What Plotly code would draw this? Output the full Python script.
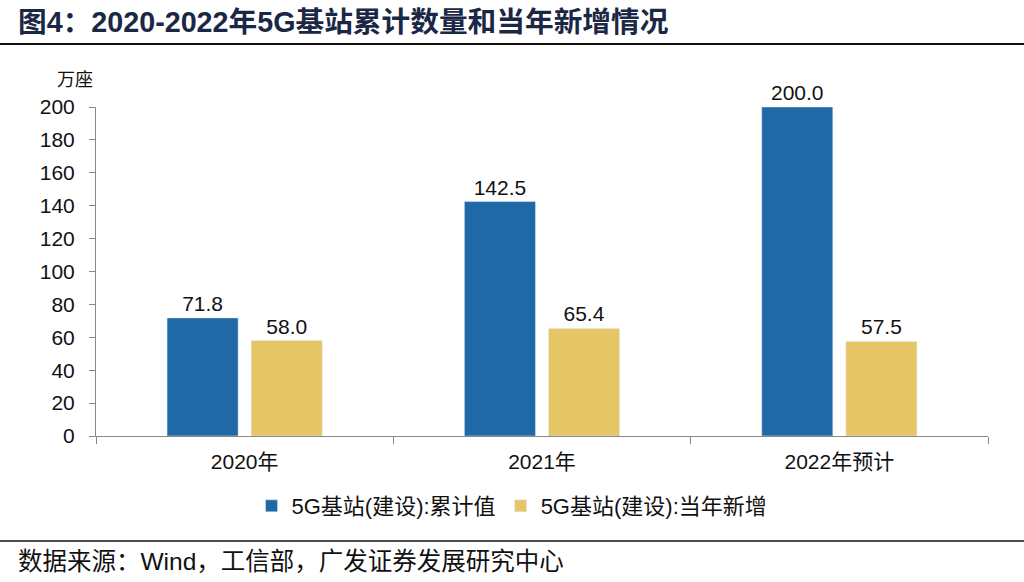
import plotly.graph_objects as go

categories = ["2020年", "2021年", "2022年预计"]
cumulative = [71.8, 142.5, 200.0]
new_added = [58.0, 65.4, 57.5]
series_names = ["5G基站(建设):累计值", "5G基站(建设):当年新增"]
y_ticks = [0, 20, 40, 60, 80, 100, 120, 140, 160, 180, 200]

FONT = "Liberation Sans, Noto Sans CJK SC, sans-serif"
BLUE = "#1E69A6"
YELLOW = "#E6C567"

L, R, T, B = 96, 36, 107, 146
PW, PH = 1024 - L - R, 582 - T - B


def px_x(x):
    return (x - L) / PW


def px_y(y):
    return (582 - B - y) / PH


fig = go.Figure()
fig.add_trace(go.Bar(
    x=categories, y=cumulative, name=series_names[0], marker_color=BLUE,
    text=[f"{v:.1f}" for v in cumulative], textposition="outside",
    textfont=dict(size=21, color="#111111", family=FONT), cliponaxis=False,
))
fig.add_trace(go.Bar(
    x=categories, y=new_added, name=series_names[1], marker_color=YELLOW,
    text=[f"{v:.1f}" for v in new_added], textposition="outside",
    textfont=dict(size=21, color="#111111", family=FONT), cliponaxis=False,
))

fig.update_layout(
    width=1024, height=582,
    paper_bgcolor="white", plot_bgcolor="white",
    margin=dict(l=L, r=R, t=T, b=B),
    barmode="group", bargap=0.434, bargroupgap=0.155,
    font=dict(family=FONT, size=20, color="#111111"),
    showlegend=True,
    legend=dict(orientation="h", x=px_x(512), xanchor="center", y=px_y(485), yanchor="top",
                font=dict(size=22, family=FONT), traceorder="normal",
                bgcolor="rgba(0,0,0,0)", itemwidth=30, tracegroupgap=0),
    xaxis=dict(
        type="category", showline=True, linecolor="#888888", linewidth=1,
        ticks="outside", tickson="boundaries", ticklen=7, tickcolor="#888888",
        tickfont=dict(size=21, family=FONT), showgrid=False, ticklabelstandoff=7,
    ),
    yaxis=dict(
        range=[0, 200], tickvals=y_ticks, showline=True, linecolor="#888888", linewidth=1,
        ticks="outside", ticklen=6, tickcolor="#888888", showgrid=False, zeroline=False,
        tickfont=dict(size=21, family=FONT), ticklabelstandoff=10,
    ),
)

fig.add_annotation(
    text="<b>图4：2020-2022年5G基站累计数量和当年新增情况</b>",
    xref="paper", yref="paper", x=px_x(16), y=px_y(22), xanchor="left", yanchor="middle",
    showarrow=False, font=dict(size=28.7, color="#1B2845", family="Liberation Sans, Noto Sans CJK SC"),
)
fig.add_annotation(
    text="万座", xref="paper", yref="paper", x=px_x(55), y=px_y(78),
    xanchor="left", yanchor="middle", showarrow=False,
    font=dict(size=18, color="#111111", family="Noto Sans CJK SC"),
)
fig.add_annotation(
    text="数据来源：Wind，工信部，广发证券发展研究中心",
    xref="paper", yref="paper", x=px_x(16), y=px_y(561),
    xanchor="left", yanchor="middle", showarrow=False,
    font=dict(size=24.5, color="#111111", family=FONT),
)
fig.add_shape(type="line", xref="paper", yref="paper",
              x0=px_x(0), x1=px_x(1024), y0=px_y(44), y1=px_y(44),
              line=dict(color="#111111", width=2))
fig.add_shape(type="line", xref="paper", yref="paper",
              x0=px_x(0), x1=px_x(1024), y0=px_y(541), y1=px_y(541),
              line=dict(color="#111111", width=1.5))

fig.write_html("out.html", config={"displayModeBar": False},
               post_script="document.body.style.margin='0';")
